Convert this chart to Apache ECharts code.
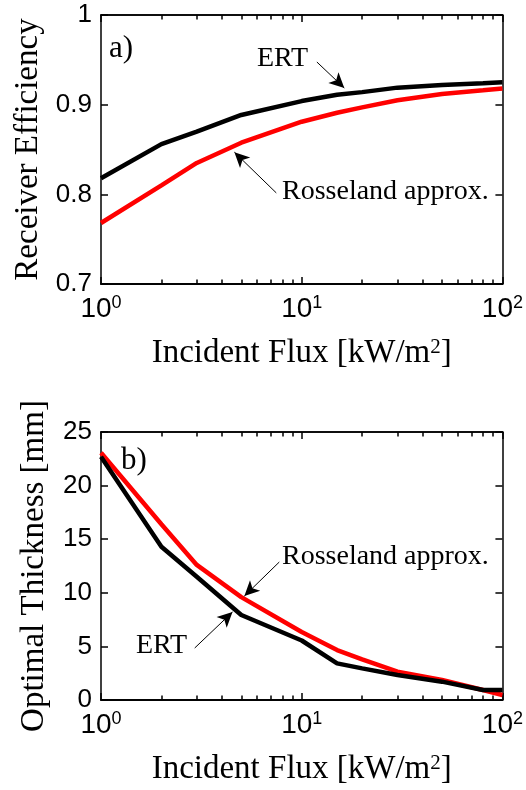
<!DOCTYPE html>
<html>
<head>
<meta charset="utf-8">
<script src="https://cdn.jsdelivr.net/npm/echarts@6/dist/echarts.min.js"></script>
<style>
  html, body { margin: 0; padding: 0; background: #fff; }
  #chart { width: 526px; height: 790px; }
</style>
</head>
<body>
<div id="chart"></div>
<script>
// incident flux, kW/m2 (log x axis)
const flux = [1, 2, 3, 5, 10, 15, 20, 30, 50, 80, 100];

// a) receiver efficiency
const effERT = [0.818, 0.856, 0.870, 0.8885, 0.904, 0.911, 0.914, 0.919, 0.922, 0.924, 0.925];
const effRosseland = [0.768, 0.810, 0.835, 0.8576, 0.881, 0.891, 0.897, 0.905, 0.912, 0.916, 0.918];

// b) optimal thickness, mm
const thickERT = [22.7, 14.3, 11.5, 7.93, 5.55, 3.42, 2.95, 2.33, 1.71, 0.93, 0.93];
const thickRosseland = [23.07, 16.4, 12.6, 9.6, 6.35, 4.66, 3.8, 2.64, 1.87, 0.93, 0.47];

// tick values
const fluxMajor = [1, 10, 100];
const fluxMinor = [2, 3, 4, 5, 6, 7, 8, 9, 20, 30, 40, 50, 60, 70, 80, 90];

// annotation arrows [from, to] in data coords
const arrowsA = {
  ert: [[11.9, 0.9476], [16.3, 0.9186]],
  ross: [[7.47, 0.8016], [4.62, 0.847]]
};
const arrowsB = {
  ert: [[2.93, 4.85], [4.52, 8.21]],
  ross: [[7.73, 12.87], [5.18, 9.70]]
};

const serif = 'Liberation Serif';
const sans = 'Liberation Sans';

function pairs(xs, ys) {
  return xs.map((x, i) => [x, ys[i]]);
}

function arrowLine(a) {
  return {
    silent: true,
    animation: false,
    symbol: ['none', 'arrow'],
    symbolSize: [11, 15],
    label: { show: false },
    lineStyle: { color: '#000', width: 1, type: 'solid' },
    emphasis: { disabled: true },
    data: [[{ coord: a[0] }, { coord: a[1] }]]
  };
}

function xAxes(gridIndex) {
  const main = {
    type: 'log',
    logBase: 10,
    min: 1,
    max: 100,
    gridIndex: gridIndex,
    position: 'bottom',
    splitLine: { show: false },
    axisLine: { onZero: false, lineStyle: { color: '#000', width: 1.5 } },
    axisTick: { show: false },
    name: 'Incident Flux [kW/m{sup|2}]',
    nameLocation: 'middle',
    nameGap: 53,
    nameTextStyle: {
      fontFamily: serif, fontSize: 33, color: '#000',
      rich: { sup: { fontFamily: serif, fontSize: 21, verticalAlign: 'top', color: '#000' } }
    },
    axisLabel: {
      customValues: fluxMajor,
      margin: 10,
      formatter: function (v) {
        return '{b|10}{s|' + Math.round(Math.log10(v)) + '}';
      },
      rich: {
        b: { fontFamily: sans, fontSize: 28, color: '#000', lineHeight: 30 },
        s: { fontFamily: sans, fontSize: 18, color: '#000', verticalAlign: 'top', lineHeight: 30 }
      }
    }
  };
  // tick-only axes over the decade exponent 0..2 (bottom and top edges of the box)
  function tickAxis(position, values, len) {
    return {
      type: 'value', min: 0, max: 2, gridIndex: gridIndex, position: position,
      splitLine: { show: false },
      axisLabel: { show: false },
      axisLine: { show: true, onZero: false, lineStyle: { color: '#000', width: 1.5 } },
      axisTick: { show: true, inside: true, length: len, customValues: values, lineStyle: { color: '#000', width: 1.5 } }
    };
  }
  const majorPos = fluxMajor.map(Math.log10);
  const minorPos = fluxMinor.map(Math.log10);
  return [
    main,
    tickAxis('bottom', majorPos, 7),
    tickAxis('bottom', minorPos, 4.5),
    tickAxis('top', majorPos, 7),
    tickAxis('top', minorPos, 4.5)
  ];
}

function yAxes(gridIndex, min, max, interval, name, gap, fmt) {
  const base = {
    type: 'value',
    gridIndex: gridIndex,
    min: min,
    max: max,
    interval: interval,
    splitLine: { show: false },
    axisLine: { show: true, onZero: false, lineStyle: { color: '#000', width: 1.5 } },
    axisTick: { show: true, inside: true, length: 7, lineStyle: { color: '#000', width: 1.5 } }
  };
  const left = Object.assign({}, base, {
    position: 'left',
    name: name,
    nameLocation: 'middle',
    nameGap: gap,
    nameTextStyle: { fontFamily: serif, fontSize: 33, color: '#000' },
    axisLabel: { margin: 9, fontFamily: sans, fontSize: 26, color: '#000', formatter: fmt }
  });
  const right = Object.assign({}, base, { position: 'right', axisLabel: { show: false } });
  return [left, right];
}

const chart = echarts.init(document.getElementById('chart'), null, { renderer: 'canvas' });

const option = {
  animation: false,
  backgroundColor: '#fff',
  grid: [
    { left: 101, right: 22, top: 15, height: 269 },
    { left: 101, right: 22, top: 432, height: 268 }
  ],
  // x axes 0-4 on grid 0, 5-9 on grid 1
  xAxis: [].concat(xAxes(0), xAxes(1)),
  yAxis: [].concat(
    yAxes(0, 0.7, 1, 0.1, 'Receiver Efficiency', 54, function (v) { return v === 1 ? '1' : v.toFixed(1); }),
    yAxes(1, 0, 25, 5, 'Optimal Thickness [mm]', 50, function (v) { return String(v); })
  ),
  series: [
    {
      name: 'Rosseland approx.', type: 'line', xAxisIndex: 0, yAxisIndex: 0,
      data: pairs(flux, effRosseland), showSymbol: false, symbol: 'none',
      lineStyle: { color: '#ff0000', width: 4.5 }, z: 2,
      markLine: arrowLine(arrowsA.ross)
    },
    {
      name: 'ERT', type: 'line', xAxisIndex: 0, yAxisIndex: 0,
      data: pairs(flux, effERT), showSymbol: false, symbol: 'none',
      lineStyle: { color: '#000', width: 4.5 }, z: 3,
      markLine: arrowLine(arrowsA.ert)
    },
    {
      name: 'Rosseland approx.', type: 'line', xAxisIndex: 5, yAxisIndex: 2,
      data: pairs(flux, thickRosseland), showSymbol: false, symbol: 'none',
      lineStyle: { color: '#ff0000', width: 4.5 }, z: 2,
      markLine: arrowLine(arrowsB.ross)
    },
    {
      name: 'ERT', type: 'line', xAxisIndex: 5, yAxisIndex: 2,
      data: pairs(flux, thickERT), showSymbol: false, symbol: 'none',
      lineStyle: { color: '#000', width: 4.5 }, z: 3,
      markLine: arrowLine(arrowsB.ert)
    }
  ],
  graphic: [
    { type: 'text', left: 109, top: 33, style: { text: 'a)', font: '31px "Liberation Serif"', fill: '#000' } },
    { type: 'text', left: 257, top: 45, style: { text: 'ERT', font: '28px "Liberation Serif"', fill: '#000' } },
    { type: 'text', left: 282, top: 178, style: { text: 'Rosseland approx.', font: '28px "Liberation Serif"', fill: '#000' } },
    { type: 'text', left: 121, top: 445, style: { text: 'b)', font: '31px "Liberation Serif"', fill: '#000' } },
    { type: 'text', left: 282, top: 543, style: { text: 'Rosseland approx.', font: '28px "Liberation Serif"', fill: '#000' } },
    { type: 'text', left: 136, top: 632, style: { text: 'ERT', font: '28px "Liberation Serif"', fill: '#000' } }
  ]
};

chart.setOption(option);
window.addEventListener('resize', function () {
  chart.resize();
});
</script>
</body>
</html>
